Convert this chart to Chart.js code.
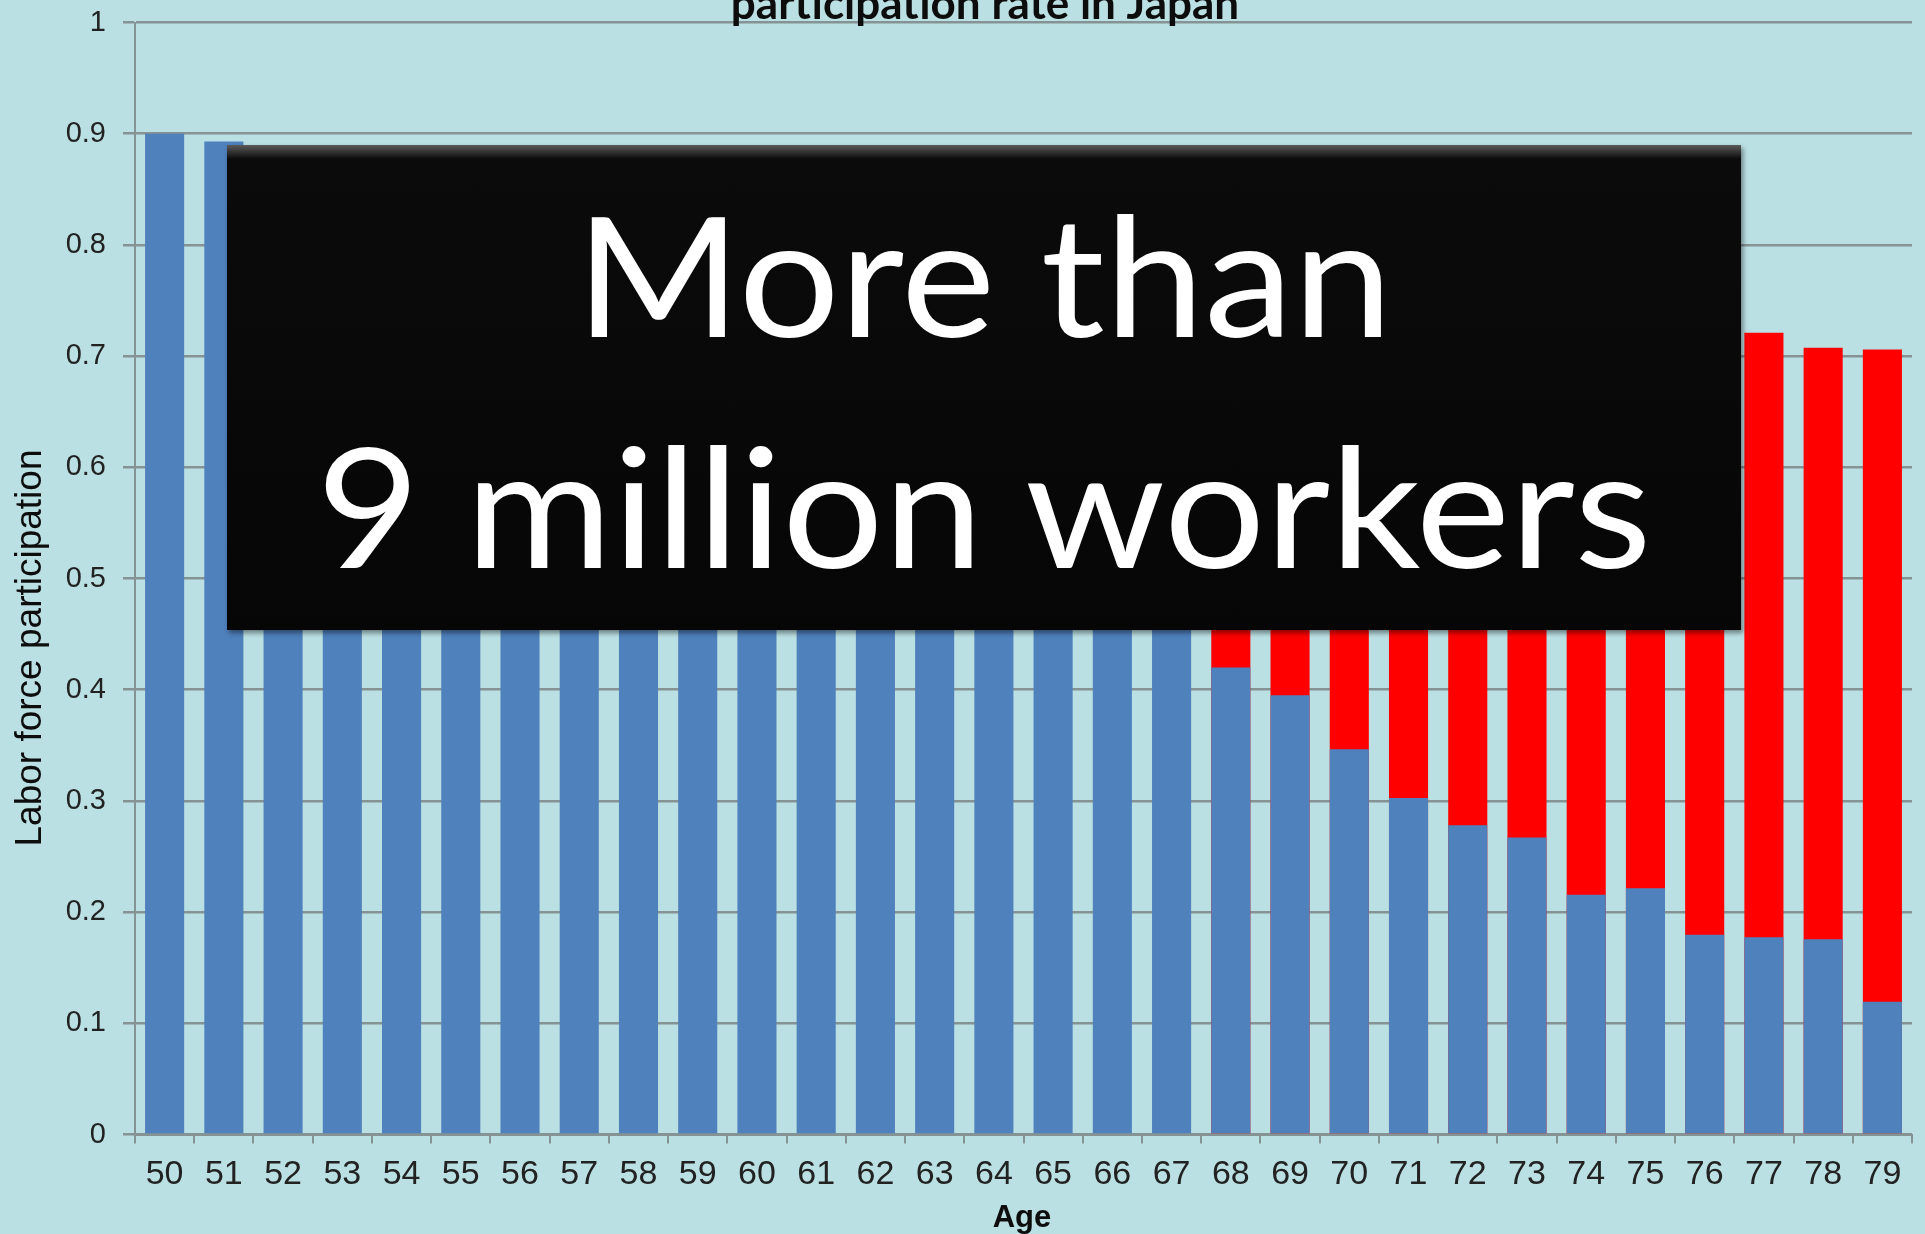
<!DOCTYPE html>
<html lang="en">

<head>
    <meta charset="UTF-8">
    <title>Labor force participation rate in Japan</title>
    <script src="https://cdn.jsdelivr.net/npm/chart.js"></script>
    <style>
        html,
        body {
            margin: 0;
            padding: 0;
            background: #bbe0e3;
            overflow: hidden;
        }

        .grafico {
            position: relative;
            width: 1925px;
            height: 1234px;
        }

        .aviso {
            position: absolute;
            left: 227px;
            top: 145px;
            width: 1514px;
            height: 485px;
            box-sizing: border-box;
            padding-top: 12px;
            background: linear-gradient(#5a5a5a 0px, #0b0b0b 14px, #060606 100%);
            box-shadow: 2px 3px 5px rgba(0, 0, 0, 0.45);
            color: #fff;
            font-family: Lato, Carlito, sans-serif;
            font-size: 166px;
            line-height: 231px;
            text-align: center;
            white-space: nowrap;
        }

        .aviso span {
            display: inline-block;
            transform: scaleX(1.075);
        }
    </style>
</head>

<body>
    <div class="grafico">
        <canvas id="myChart" width="1925" height="1234"></canvas>
        <div class="aviso"><span>More than</span><br><span>9 million workers</span></div>
    </div>

    <script>
        const idades = ['50', '51', '52', '53', '54', '55', '56', '57', '58', '59',
            '60', '61', '62', '63', '64', '65', '66', '67', '68', '69',
            '70', '71', '72', '73', '74', '75', '76', '77', '78', '79'];

        // taxa observada (azul)
        const participacaoAtual = [0.900, 0.893, 0.885, 0.880, 0.872, 0.862, 0.850, 0.838, 0.822, 0.800,
            0.752, 0.720, 0.690, 0.655, 0.618, 0.548, 0.515, 0.478, 0.420, 0.395,
            0.3465, 0.3025, 0.278, 0.267, 0.2157, 0.2214, 0.1796, 0.1774, 0.1755, 0.1194];

        // taxa potencial (vermelho, atras do azul)
        const participacaoPotencial = [null, null, null, null, null, null, null, null, null, null,
            null, null, null, null, null, null, null, null, 0.800, 0.790,
            0.780, 0.770, 0.760, 0.752, 0.745, 0.738, 0.730, 0.721, 0.7075, 0.706];

        const rotulosY = ['0', '0.1', '0.2', '0.3', '0.4', '0.5', '0.6', '0.7', '0.8', '0.9', '1'];

        const corGrade = '#869395';

        const textos = {
            id: 'textos',
            beforeDraw(chart) {
                const ctx = chart.ctx;
                ctx.save();
                ctx.fillStyle = '#bbe0e3';
                ctx.fillRect(0, 0, chart.width, chart.height);
                ctx.restore();
            },
            afterDraw(chart) {
                const ctx = chart.ctx;
                ctx.save();
                ctx.fillStyle = '#0d0d0d';
                ctx.textAlign = 'center';

                ctx.font = 'bold 44px Lato, Carlito, sans-serif';
                ctx.textBaseline = 'alphabetic';
                ctx.fillText('participation rate in Japan', 985, 19);

                ctx.font = 'bold 31px "Liberation Sans", Arial, sans-serif';
                ctx.fillText('Age', 1022, 1227);

                ctx.translate(31, 648);
                ctx.rotate(-Math.PI / 2);
                ctx.textBaseline = 'middle';
                ctx.font = '37px "Liberation Sans", Arial, sans-serif';
                ctx.fillText('Labor force participation', 0, 0);
                ctx.restore();
            }
        };

        const config = {
            type: 'bar',
            data: {
                labels: idades,
                datasets: [{
                    label: 'Labor force participation',
                    data: participacaoAtual,
                    backgroundColor: '#4f81bd',
                    borderWidth: 0,
                    grouped: false,
                    categoryPercentage: 1,
                    barPercentage: 0.66
                }, {
                    label: 'Potential',
                    data: participacaoPotencial,
                    backgroundColor: '#ff0000',
                    borderWidth: 0,
                    grouped: false,
                    categoryPercentage: 1,
                    barPercentage: 0.66
                }]
            },
            options: {
                responsive: false,
                animation: false,
                devicePixelRatio: 1,
                layout: {
                    padding: { top: 22.5, right: 13, bottom: 0, left: 0 }
                },
                plugins: {
                    legend: { display: false },
                    tooltip: { enabled: false },
                    title: { display: false }
                },
                scales: {
                    x: {
                        grid: {
                            display: true,
                            drawOnChartArea: false,
                            drawTicks: true,
                            tickLength: 9,
                            color: corGrade,
                            lineWidth: 2,
                            offset: true
                        },
                        border: { color: corGrade, width: 2 },
                        ticks: {
                            color: '#222',
                            autoSkip: false,
                            maxRotation: 0,
                            padding: 11,
                            font: { family: '"Liberation Sans", Arial, sans-serif', size: 34 }
                        },
                        afterFit: function (escala) {
                            escala.height = 99.5;
                            escala.paddingLeft = 0;
                            escala.paddingRight = 0;
                        }
                    },
                    y: {
                        min: 0,
                        max: 1,
                        ticks: {
                            stepSize: 0.1,
                            color: '#222',
                            padding: 17,
                            font: { family: '"Liberation Sans", Arial, sans-serif', size: 29 },
                            callback: function (valor, i) {
                                return rotulosY[i];
                            }
                        },
                        grid: {
                            color: corGrade,
                            lineWidth: 2.5,
                            tickLength: 12
                        },
                        border: { color: corGrade, width: 2 },
                        afterFit: function (escala) {
                            escala.width = 135;
                            escala.paddingTop = 0;
                            escala.paddingBottom = 0;
                        }
                    }
                }
            },
            plugins: [textos]
        };

        let myChart = new Chart(
            document.getElementById('myChart'),
            config
        );
    </script>
</body>

</html>
